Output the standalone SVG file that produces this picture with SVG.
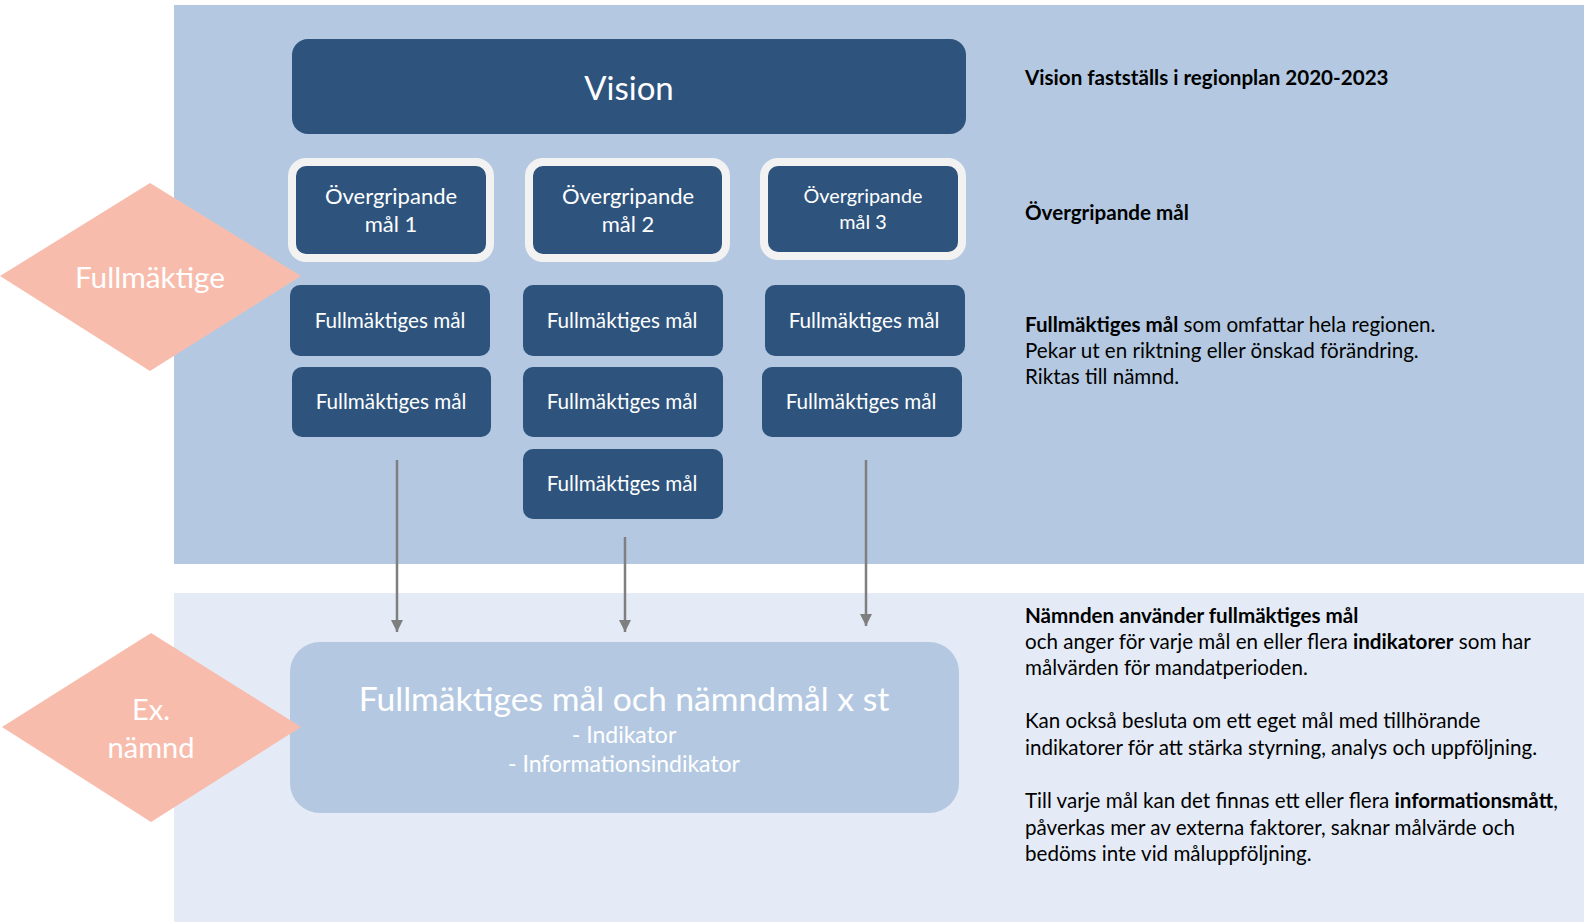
<svg xmlns="http://www.w3.org/2000/svg" width="1584" height="922" viewBox="0 0 1584 922">
<defs>
<style>
.band1{fill:#B4C9E1}
.band2{fill:#E4EBF6}
.dark{fill:#2E547E}
.ov{fill:#2E547E;stroke:#F2F2F2;stroke-width:8}
.dia{fill:#F8BCAD}
.wt{fill:#FFFFFF;font-family:Lato,"Open Sans",sans-serif;text-anchor:middle}
.bt{fill:#000000;font-family:Lato,"Open Sans",sans-serif;font-size:20.6px}
.b{font-weight:bold}
.conn{stroke:#7F7F7F;stroke-width:2.5;fill:none}
</style>
<marker id="ah" viewBox="0 0 10 10" refX="10" refY="5" markerWidth="5" markerHeight="5" markerUnits="strokeWidth" orient="auto">
<path d="M0,0 L10,5 L0,10 z" fill="#7F7F7F"/>
</marker>
</defs>
<rect width="1584" height="922" fill="#FFFFFF"/>
<rect class="band1" x="174" y="5" width="1410" height="559"/>
<rect class="band2" x="174" y="593" width="1410" height="329"/>

<g id="vision">
<rect class="dark" x="292" y="39" width="674" height="95" rx="16"/>
<text class="wt" x="629" y="100" font-size="33">Vision</text>
</g>

<g id="ov1">
<rect class="ov" x="292" y="162" width="198" height="96" rx="14"/>
<text class="wt" x="391" y="204" font-size="22">Övergripande</text>
<text class="wt" x="391" y="232" font-size="22">mål 1</text>
</g>
<g id="ov2">
<rect class="ov" x="529" y="162" width="197" height="96" rx="14"/>
<text class="wt" x="628" y="204" font-size="22">Övergripande</text>
<text class="wt" x="628" y="232" font-size="22">mål 2</text>
</g>
<g id="ov3">
<rect class="ov" x="764" y="162" width="198" height="94" rx="14"/>
<text class="wt" x="863" y="203" font-size="19.8">Övergripande</text>
<text class="wt" x="863" y="229" font-size="19.8">mål 3</text>
</g>

<g id="fm1a"><rect class="dark" x="290" y="285" width="200" height="71" rx="10"/><text class="wt" x="390" y="328" font-size="20.7">Fullmäktiges mål</text></g>
<g id="fm1b"><rect class="dark" x="292" y="367" width="199" height="70" rx="10"/><text class="wt" x="391" y="409" font-size="20.7">Fullmäktiges mål</text></g>
<g id="fm2a"><rect class="dark" x="523" y="285" width="200" height="71" rx="10"/><text class="wt" x="622" y="328" font-size="20.7">Fullmäktiges mål</text></g>
<g id="fm2b"><rect class="dark" x="523" y="367" width="200" height="70" rx="10"/><text class="wt" x="622" y="409" font-size="20.7">Fullmäktiges mål</text></g>
<g id="fm2c"><rect class="dark" x="523" y="449" width="200" height="70" rx="10"/><text class="wt" x="622" y="491" font-size="20.7">Fullmäktiges mål</text></g>
<g id="fm3a"><rect class="dark" x="765" y="285" width="200" height="71" rx="10"/><text class="wt" x="864" y="328" font-size="20.7">Fullmäktiges mål</text></g>
<g id="fm3b"><rect class="dark" x="762" y="367" width="200" height="70" rx="10"/><text class="wt" x="861" y="409" font-size="20.7">Fullmäktiges mål</text></g>

<g id="fullmaktige">
<polygon class="dia" points="150,183 301,276 150,371 0,276"/>
<text class="wt" x="150" y="288" font-size="29.8">Fullmäktige</text>
</g>

<g id="namndmal">
<rect class="band1" x="290" y="642" width="669" height="171" rx="30"/>
<text class="wt" x="624" y="711" font-size="33.7">Fullmäktiges mål och nämndmål x st</text>
<text class="wt" x="624" y="743" font-size="23">- Indikator</text>
<text class="wt" x="624" y="772" font-size="23">-  Informationsindikator</text>
</g>

<g id="namnd">
<polygon class="dia" points="151,633 301,727 151,822 2,727"/>
<text class="wt" x="151" y="720" font-size="29">Ex.</text>
<text class="wt" x="151" y="758" font-size="29">nämnd</text>
</g>

<g id="connectors">
<line class="conn" x1="397" y1="460" x2="397" y2="632" marker-end="url(#ah)"/>
<line class="conn" x1="625" y1="537" x2="625" y2="632" marker-end="url(#ah)"/>
<line class="conn" x1="866" y1="460" x2="866" y2="626" marker-end="url(#ah)"/>
</g>

<g id="descriptions">
<text class="bt b" x="1025" y="85">Vision fastställs i regionplan 2020-2023</text>
<text class="bt b" x="1025" y="220">Övergripande mål</text>
<text class="bt" x="1025" y="332"><tspan class="b">Fullmäktiges mål</tspan> som omfattar hela regionen.</text>
<text class="bt" x="1025" y="358">Pekar ut en riktning eller önskad förändring.</text>
<text class="bt" x="1025" y="384">Riktas till nämnd.</text>
<text class="bt b" x="1025" y="623">Nämnden använder fullmäktiges mål</text>
<text class="bt" x="1025" y="649">och anger för varje mål en eller flera <tspan class="b">indikatorer</tspan> som har</text>
<text class="bt" x="1025" y="675">målvärden för mandatperioden.</text>
<text class="bt" x="1025" y="728">Kan också besluta om ett eget mål med tillhörande</text>
<text class="bt" x="1025" y="755">indikatorer för att stärka styrning, analys och uppföljning.</text>
<text class="bt" x="1025" y="808">Till varje mål kan det finnas ett eller flera <tspan class="b">informationsmått</tspan>,</text>
<text class="bt" x="1025" y="835">påverkas mer av externa faktorer, saknar målvärde och</text>
<text class="bt" x="1025" y="861">bedöms inte vid måluppföljning.</text>
</g>
</svg>
